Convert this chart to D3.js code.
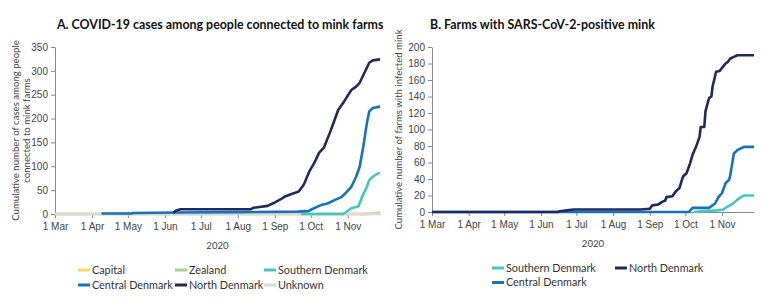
<!DOCTYPE html>
<html>
<head>
<meta charset="utf-8">
<script src="https://cdn.jsdelivr.net/npm/d3@7"></script>
<style>
  body { margin: 0; background: #fff; }
  svg { font-family: Lato, sans-serif; display: block; }
  .axis text { font-size: 10px; fill: #444; }
  .axis path, .axis line { stroke: #888; }
  .title { font-size: 12.4px; font-weight: bold; fill: #111; }
  .label { font-size: 9.6px; fill: #444; }
  .legend text { font-size: 10.8px; fill: #333; }
</style>
</head>
<body>
<svg id="chart"></svg>
<script>
// month ticks shared by both panels
var monthTicks = ['2020-03-01', '2020-04-01', '2020-05-01', '2020-06-01', '2020-07-01',
  '2020-08-01', '2020-09-01', '2020-10-01', '2020-11-01'];
var dateRange = ['2020-03-01', '2020-11-28'];

// A. cumulative cases among people connected to mink farms
var casesCapital = [['2020-03-01', 0], ['2020-11-20', 0], ['2020-11-24', 2], ['2020-11-28', 3]];
var casesZealand = [['2020-03-01', 0], ['2020-11-15', 0], ['2020-11-22', 1], ['2020-11-28', 2]];
var casesUnknown = [['2020-03-01', 0], ['2020-11-28', 0]];
var casesSouthern = [['2020-09-23', 0], ['2020-10-28', 0], ['2020-10-30', 3], ['2020-11-04', 12],
  ['2020-11-10', 16], ['2020-11-13', 36], ['2020-11-17', 57], ['2020-11-19', 71], ['2020-11-22', 78],
  ['2020-11-26', 85], ['2020-11-28', 86]];
var casesCentral = [['2020-04-09', 1], ['2020-05-04', 1], ['2020-05-05', 2], ['2020-06-10', 3],
  ['2020-08-01', 4], ['2020-09-20', 5], ['2020-09-29', 6], ['2020-10-02', 10], ['2020-10-10', 19],
  ['2020-10-15', 22], ['2020-10-21', 29], ['2020-10-27', 36], ['2020-10-31', 46], ['2020-11-04', 57],
  ['2020-11-08', 78], ['2020-11-11', 99], ['2020-11-14', 141], ['2020-11-17', 190], ['2020-11-19', 215],
  ['2020-11-22', 222], ['2020-11-28', 225]];
var casesNorth = [['2020-06-08', 2], ['2020-06-10', 7], ['2020-06-14', 10], ['2020-08-12', 10],
  ['2020-08-14', 13], ['2020-08-26', 17], ['2020-08-31', 23], ['2020-09-06', 31], ['2020-09-09', 36],
  ['2020-09-15', 42], ['2020-09-21', 47], ['2020-09-25', 61], ['2020-09-26', 66], ['2020-09-30', 90],
  ['2020-10-04', 107], ['2020-10-08', 128], ['2020-10-12', 139], ['2020-10-17', 170], ['2020-10-21', 197],
  ['2020-10-24', 218], ['2020-10-29', 236], ['2020-11-04', 260], ['2020-11-08', 267], ['2020-11-11', 275],
  ['2020-11-15', 296], ['2020-11-19', 317], ['2020-11-22', 322], ['2020-11-28', 324]];
var casesTicks = [0, 50, 100, 150, 200, 250, 300, 350];

// B. cumulative farms with infected mink
var farmsSouthern = [['2020-10-08', 0], ['2020-10-14', 1], ['2020-10-28', 2], ['2020-11-02', 3],
  ['2020-11-05', 6], ['2020-11-10', 10], ['2020-11-14', 15], ['2020-11-18', 19], ['2020-11-20', 20],
  ['2020-11-28', 20]];
var farmsCentral = [['2020-03-01', 0], ['2020-10-04', 0], ['2020-10-07', 5], ['2020-10-21', 5],
  ['2020-10-24', 8], ['2020-10-26', 10], ['2020-10-29', 18], ['2020-11-01', 23], ['2020-11-04', 35],
  ['2020-11-07', 39], ['2020-11-08', 45], ['2020-11-11', 71], ['2020-11-14', 75], ['2020-11-18', 78],
  ['2020-11-20', 79], ['2020-11-28', 79]];
var farmsNorth = [['2020-03-01', 0], ['2020-06-15', 0], ['2020-06-17', 1], ['2020-06-23', 2],
  ['2020-06-29', 3], ['2020-08-24', 3], ['2020-09-01', 4], ['2020-09-03', 8], ['2020-09-08', 9],
  ['2020-09-11', 12], ['2020-09-14', 14], ['2020-09-15', 18], ['2020-09-20', 19], ['2020-09-23', 25],
  ['2020-09-26', 29], ['2020-09-29', 43], ['2020-10-02', 47], ['2020-10-05', 59], ['2020-10-07', 69],
  ['2020-10-10', 79], ['2020-10-13', 91], ['2020-10-14', 103], ['2020-10-17', 103], ['2020-10-18', 122],
  ['2020-10-21', 138], ['2020-10-23', 140], ['2020-10-24', 152], ['2020-10-27', 170], ['2020-10-30', 171],
  ['2020-11-04', 180], ['2020-11-06', 182], ['2020-11-08', 186], ['2020-11-11', 188], ['2020-11-14', 190],
  ['2020-11-28', 190]];
var farmsTicks = [0, 20, 40, 60, 80, 100, 120, 140, 160, 180, 200];

var colors = {
  'Capital': '#fbd56a',
  'Zealand': '#a9d18e',
  'Southern Denmark': '#43c7c5',
  'Central Denmark': '#1672bb',
  'North Denmark': '#1f2a5f',
  'Unknown': '#d9d9d9'
};

var parse = d3.timeParse('%Y-%m-%d');

var svg = d3.select('#chart')
  .attr('width', 783)
  .attr('height', 306);

svg.append('rect').attr('width', 783).attr('height', 306).attr('fill', '#fff');

var render = (opts) => {
  var m = opts.margin;
  var width = opts.width - m.left - m.right;
  var height = opts.height - m.top - m.bottom;

  var x = d3.scaleTime()
    .domain(dateRange.map(parse))
    .range([0, width]);

  var y = d3.scaleLinear()
    .domain([0, d3.max(opts.yTicks)])
    .range([height, 0]);

  var g = svg.append('g')
    .attr('transform', `translate(${ opts.x + m.left }, ${ m.top })`);

  g.append('text')
    .attr('class', 'title')
    .attr('x', opts.titleX)
    .attr('y', -18)
    .text(opts.title);

  g.append('g')
    .attr('class', 'axis y')
    .call(d3.axisLeft(y).tickValues(opts.yTicks).tickSize(4).tickSizeOuter(0));

  g.append('g')
    .attr('class', 'axis x')
    .attr('transform', `translate(0, ${ height })`)
    .call(d3.axisBottom(x)
      .tickValues(monthTicks.map(parse))
      .tickFormat(d3.timeFormat('%-d %b'))
      .tickSize(4)
      .tickSizeOuter(0))
    .selectAll('text').attr('dy', '0.9em');

  var yTitle = g.append('text')
    .attr('class', 'label')
    .attr('transform', `translate(${ opts.yTitleX }, ${ height / 2 }) rotate(-90)`)
    .attr('text-anchor', 'middle');
  opts.yTitle.forEach((line, i) => {
    yTitle.append('tspan')
      .attr('x', 0)
      .attr('dy', i === 0 ? 0 : '1.15em')
      .text(line);
  });

  g.append('text')
    .attr('class', 'label')
    .attr('x', width / 2)
    .attr('y', height + 35)
    .attr('text-anchor', 'middle')
    .text('2020');

  var line = d3.line()
    .x(d => x(parse(d[0])))
    .y(d => y(d[1]));

  opts.series.forEach(s => {
    g.append('path')
      .datum(s.values)
      .attr('fill', 'none')
      .attr('stroke', colors[s.name])
      .attr('stroke-width', 2.6)
      .attr('stroke-linejoin', 'round')
      .attr('d', line);
  });

  var legend = g.append('g')
    .attr('class', 'legend')
    .attr('transform', `translate(${ opts.legend.x }, ${ height + 56 })`);

  var cols = opts.legend.cols;
  var item = legend.selectAll('.item')
    .data(opts.legend.items)
    .enter().append('g')
      .attr('class', 'item')
      .attr('transform', (d, i) => `translate(${ cols[i % cols.length] }, ${ Math.floor(i / cols.length) * opts.legend.rowHeight })`);

  item.append('line')
    .attr('x1', 0).attr('x2', 12)
    .attr('stroke', d => colors[d])
    .attr('stroke-width', 3);

  item.append('text')
    .attr('x', 14)
    .attr('dy', '0.35em')
    .text(d => d);
};

render({
  x: 0,
  width: 390,
  height: 306,
  margin: { top: 47, right: 10, bottom: 92, left: 55 },
  title: 'A. COVID-19 cases among people connected to mink farms',
  titleX: 2,
  yTitle: ['Cumulative number of cases among people', 'connected to mink farms'],
  yTitleX: -36,
  yTicks: casesTicks,
  series: [
    { name: 'Capital', values: casesCapital },
    { name: 'Zealand', values: casesZealand },
    { name: 'Unknown', values: casesUnknown },
    { name: 'Southern Denmark', values: casesSouthern },
    { name: 'Central Denmark', values: casesCentral },
    { name: 'North Denmark', values: casesNorth }
  ],
  legend: {
    x: 23,
    cols: [0, 97, 186],
    rowHeight: 15,
    items: ['Capital', 'Zealand', 'Southern Denmark', 'Central Denmark', 'North Denmark', 'Unknown']
  }
});

render({
  x: 390,
  width: 393,
  height: 306,
  margin: { top: 47, right: 29, bottom: 94, left: 42 },
  title: 'B. Farms with SARS-CoV-2-positive mink',
  titleX: -2,
  yTitle: ['Cumulative number of farms with infected mink'],
  yTitleX: -30,
  yTicks: farmsTicks,
  series: [
    { name: 'Southern Denmark', values: farmsSouthern },
    { name: 'Central Denmark', values: farmsCentral },
    { name: 'North Denmark', values: farmsNorth }
  ],
  legend: {
    x: 60,
    cols: [0, 123],
    rowHeight: 14.5,
    items: ['Southern Denmark', 'North Denmark', 'Central Denmark']
  }
});
</script>
</body>
</html>
